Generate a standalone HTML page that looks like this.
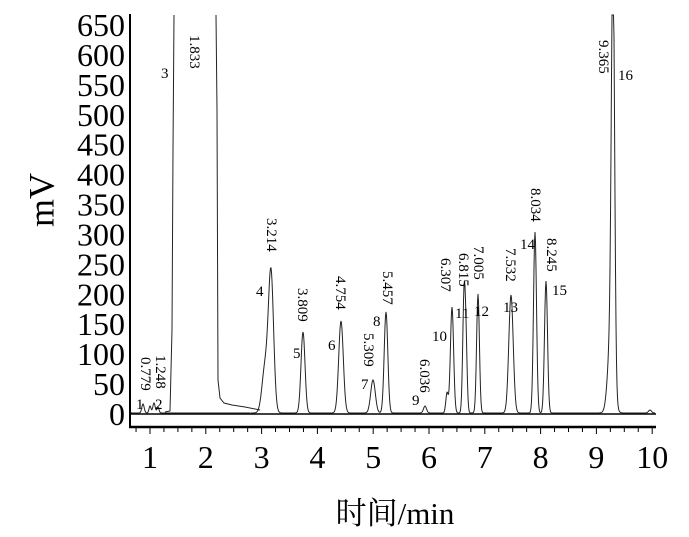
<!DOCTYPE html>
<html><head><meta charset="utf-8"><style>
html,body{margin:0;padding:0;background:#fff}
svg{display:block}
text{font-family:"Liberation Serif","Noto Serif CJK SC",serif;fill:#000}
.t{font-size:32px}
.l{font-size:15px}
</style></head><body>
<svg id="s" width="689" height="537" viewBox="0 0 689 537" xmlns="http://www.w3.org/2000/svg">
<g id="ax"></g>
<line x1="130" y1="14" x2="130" y2="427" stroke="#000" stroke-width="2"/>
<line x1="129" y1="427" x2="656" y2="427" stroke="#000" stroke-width="2.5"/>
<line x1="130" y1="414" x2="656" y2="414" stroke="#000" stroke-width="1.5"/>
<path id="sig" fill="none" stroke="#222" stroke-width="1"/>
<path d="M165,412 L170,411 L172,330 L173,150 L174,15 M216,15 L217,110 L218,380 L220,398 L224,403 L232,405 L245,407 L260,410" fill="none" stroke="#222" stroke-width="1"/>
<text x="45" y="200" transform="rotate(-90 45 200)" text-anchor="middle" dominant-baseline="middle" style="font-size:36px">mV</text>
<text x="395" y="524" text-anchor="middle" style="font-size:31px">时间/min</text>
<g id="yl"></g><g id="xl"></g><g id="lab"></g>
</svg>
<script>
var NS="http://www.w3.org/2000/svg";
function el(p,t,a,txt){var e=document.createElementNS(NS,t);for(var k in a)e.setAttribute(k,a[k]);if(txt!=null)e.textContent=txt;document.getElementById(p).appendChild(e);return e;}
for(var v=0;v<=650;v+=50){var y=414-v*0.5985;el("yl","text",{x:125,y:y+11,"text-anchor":"end","class":"t"},String(v));}
for(var i=1;i<=10;i++){var x=150+(i-1)*55.8;el("xl","text",{x:x,y:468,"text-anchor":"middle","class":"t"},String(i));}
for(var m=0.75;m<=10.3;m+=0.25){var x=150+(m-1)*55.8;if(x>655)break;el("ax","line",{x1:x,y1:427,x2:x,y2:Math.abs(m-Math.round(m))<0.01?434:432,stroke:"#000","stroke-width":1});}
var P=[[143,9,1.2],[150,7,1],[154,10,1.2],[158,6,1],[265,45,3],[271,139,2.6],[303,81,2],[341,92,2.3],[373,33,2.3],[386,101,1.8],[425,7,1.5],[447,20,1.2],[452,106,1.6],[464,113,1.3],[466,60,1.2],[478,119,1.4],[511,118,2.2],[535,181,1.5],[546,132,1.5],[613,399,1.6],[611,80,3],[650,3,1.5]];
var d="M131,412";
for(var x=131;x<=655;x+=0.5){if(x>166&&x<250)continue;var s=0;for(var j=0;j<P.length;j++){var p=P[j];s+=p[1]*Math.exp(-Math.pow(x-p[0],2)/(2*p[2]*p[2]));}
var y=Math.max(413-s,15);d+=(x>250&&x<251?" M":" L")+x+","+y.toFixed(1);}
document.getElementById("sig").setAttribute("d",d);
var R=[["1.833",190,35],["3.214",267,218],["3.809",298,288],["4.754",336,276],["5.309",364,333],["5.457",383,271],["6.036",420,359],["6.307",441,258],["6.815",459,253],["7.005",474,246],["7.532",506,248],["8.034",531,188],["8.245",547,238],["9.365",599,40],["0.779",141,357],["1.248",156,355]];
R.forEach(function(r){el("lab","text",{"class":"l",transform:"translate("+r[1]+","+r[2]+") rotate(90)"},r[0]);});
var N=[["1",136,409],["2",155,409],["3",161,78],["4",256,296],["5",293,358],["6",328,350],["7",361,389],["8",373,326],["9",412,405],["10",432,341],["11",455,318],["12",474,316],["13",503,312],["14",520,249],["15",552,295],["16",618,80]];
N.forEach(function(n){el("lab","text",{"class":"l",x:n[1],y:n[2]},n[0]);});
</script>
</body></html>
